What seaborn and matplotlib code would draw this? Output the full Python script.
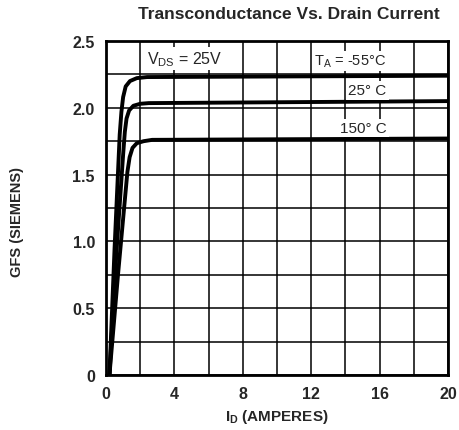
import numpy as np
import pandas as pd
import matplotlib
matplotlib.use("Agg")
import matplotlib.pyplot as plt
import seaborn as sns

# Data
id_m55 = [0.2, 0.5, 0.8, 0.9, 1.0, 1.15, 1.4, 1.8, 2.4, 20.0]
gfs_m55 = [0.0, 0.95, 1.8, 1.97, 2.08, 2.16, 2.2, 2.222, 2.23, 2.24]
id_25 = [0.2, 0.6, 1.0, 1.1, 1.2, 1.35, 1.6, 2.0, 2.5, 20.0]
gfs_25 = [0.0, 0.9, 1.65, 1.82, 1.92, 1.98, 2.015, 2.03, 2.035, 2.05]
id_150 = [0.2, 0.7, 1.15, 1.25, 1.38, 1.55, 1.8, 2.2, 2.7, 20.0]
gfs_150 = [0.0, 0.75, 1.38, 1.52, 1.63, 1.7, 1.735, 1.75, 1.76, 1.77]
series_names = ["-55", "25", "150"]

x_ticks = [0, 4, 8, 12, 16, 20]
x_tick_labels = ["0", "4", "8", "12", "16", "20"]
y_ticks = [0, 0.5, 1.0, 1.5, 2.0, 2.5]
y_tick_labels = ["0", "0.5", "1.0", "1.5", "2.0", "2.5"]

df = pd.concat([
    pd.DataFrame({"ID": id_m55, "GFS": gfs_m55, "T": series_names[0]}),
    pd.DataFrame({"ID": id_25, "GFS": gfs_25, "T": series_names[1]}),
    pd.DataFrame({"ID": id_150, "GFS": gfs_150, "T": series_names[2]}),
])

sns.set_style("white")
plt.rcParams['font.family'] = ['Liberation Sans', 'DejaVu Sans']

fig = plt.figure(figsize=(4.59, 4.31), dpi=100)
ax = fig.add_axes([0.231, 0.1276, 0.745, 0.775])

sns.lineplot(data=df, x="ID", y="GFS", hue="T", palette=["black"] * 3,
             linewidth=2.8, legend=False, ax=ax, sort=False, estimator=None)

ax.set_xlim(0, 20)
ax.set_ylim(0, 2.5)
ax.set_xticks(np.arange(0, 20.01, 2), minor=True)
ax.set_yticks(np.arange(0, 2.501, 0.25), minor=True)
ax.set_xticks(x_ticks)
ax.set_xticklabels(x_tick_labels)
ax.set_yticks(y_ticks)
ax.set_yticklabels(y_tick_labels)
ax.grid(True, which="both", color="black", linewidth=1.1)
ax.set_axisbelow(True)
ax.tick_params(which="both", length=0, labelsize=11.5, pad=8)
for lab in ax.get_xticklabels() + ax.get_yticklabels():
    lab.set_fontweight("bold")
for s in ax.spines.values():
    s.set_color("black")
    s.set_linewidth(2)

ax.set_xlabel("I$_\\mathregular{D}$ (AMPERES)", fontsize=11, fontweight="bold", labelpad=4)
ax.set_ylabel("GFS (SIEMENS)", fontsize=10.5, fontweight="bold")
ax.yaxis.set_label_coords(-0.24, 0.46)
fig.text(0.63, 0.967, "Transconductance Vs. Drain Current", ha="center", va="center",
         fontsize=12.5, fontweight="bold")

box = dict(facecolor="white", edgecolor="none", pad=1.5)
ax.text(4.6, 2.37, "V$_\\mathregular{DS}$ = 25V", ha="center", va="center", fontsize=11.5,
        bbox=box)
ax.text(16.4, 2.35, "T$_\\mathregular{A}$ = -55°C", ha="right", va="center", fontsize=10.5,
        bbox=box)
ax.text(16.4, 2.13, "25° C", ha="right", va="center", fontsize=11, bbox=box)
ax.text(16.4, 1.85, "150° C", ha="right", va="center", fontsize=11, bbox=box)

fig.savefig("out.png", dpi=100)
